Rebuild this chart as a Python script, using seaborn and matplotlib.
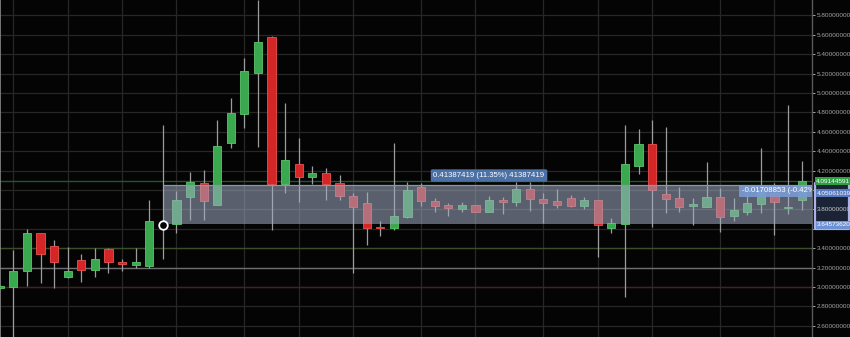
import matplotlib
matplotlib.use("Agg")
import matplotlib.pyplot as plt
import matplotlib.transforms as mtransforms
from matplotlib.patches import Rectangle
import numpy as np
import pandas as pd
import seaborn as sns

# ---------------- data ----------------
opens = [2.99, 3.002, 3.164, 3.553, 3.422, 3.099, 3.277, 3.177, 3.391, 3.26,
         3.227, 3.215, 3.64, 3.645, 3.93, 4.068, 3.844, 4.487, 4.786, 5.208,
         5.579, 4.058, 4.267, 4.136, 4.171, 4.074, 3.937, 3.862, 3.62, 3.604,
         3.717, 4.027, 3.886, 3.844, 3.803, 3.841, 3.775, 3.885, 3.872, 4.006,
         3.906, 3.889, 3.92, 3.834, 3.896, 3.604, 3.648, 4.249, 4.470, 3.958,
         3.913, 3.834, 3.827, 3.93, 3.731, 3.769, 3.855, 3.971, 3.81, 3.896]
highs = [3.02, 3.38, 3.595, 3.56, 3.483, 3.414, 3.339, 3.398, 3.40, 3.285,
         3.398, 3.90, 4.669, 3.99, 4.188, 4.205, 4.721, 4.95, 5.357, 5.96,
         5.59, 4.899, 4.532, 4.246, 4.223, 4.154, 3.966, 3.982, 3.683, 4.480,
         4.085, 4.068, 3.913, 3.862, 3.879, 3.845, 3.937, 3.93, 4.085, 4.085,
         3.965, 4.006, 3.947, 3.93, 3.90, 3.707, 4.669, 4.625, 4.721, 4.652,
         4.027, 3.913, 4.291, 4.017, 3.913, 3.965, 4.429, 4.074, 4.875, 4.298]
lows = [2.98, 2.48, 3.008, 3.037, 2.986, 3.09, 3.047, 3.105, 3.147, 3.167,
        3.192, 3.198, 3.285, 3.559, 3.69, 3.69, 3.84, 4.429, 4.641, 4.445,
        3.587, 3.965, 3.878, 4.058, 3.896, 3.896, 3.140, 3.432, 3.525, 3.587,
        3.707, 3.834, 3.775, 3.731, 3.775, 3.77, 3.769, 3.748, 3.837, 3.786,
        3.656, 3.810, 3.821, 3.80, 3.311, 3.553, 2.899, 4.164, 3.621, 3.759,
        3.775, 3.638, 3.82, 3.569, 3.679, 3.741, 3.759, 3.535, 3.75, 3.794]
closes = [3.01, 3.167, 3.553, 3.336, 3.260, 3.167, 3.177, 3.291, 3.254, 3.24,
          3.257, 3.683, 3.645, 3.896, 4.078, 3.889, 4.453, 4.79, 5.226, 5.522,
          4.061, 4.308, 4.13, 4.171, 4.058, 3.937, 3.821, 3.610, 3.61, 3.731,
          4.0, 3.886, 3.837, 3.810, 3.844, 3.775, 3.896, 3.88, 4.009, 3.906,
          3.862, 3.844, 3.837, 3.896, 3.638, 3.656, 4.264, 4.473, 3.999, 3.906,
          3.827, 3.851, 3.924, 3.724, 3.793, 3.862, 3.999, 3.878, 3.81, 4.09144591]

price_ticks = [2.6, 2.8, 3.0, 3.2, 3.4, 3.6, 3.8, 4.0, 4.2, 4.4, 4.6, 4.8,
               5.0, 5.2, 5.4, 5.6, 5.8]
boxed_ticks = [3.6, 3.8, 4.0]      # labels hidden under / redrawn in the selection box
boxed_visible = 3.8
grid_candles = [1, 5, 9, 13, 18, 22, 26, 31, 35, 40, 44, 48, 53, 57]

level_prices = [3.4, 3.2, 3.0]
level_colors = ["#3c4d2c", "#6e6e6e", "#521c1c"]

last_price = 4.09144591
range_top = 4.05061039
range_bottom = 3.64573620
range_start = 12
range_label = "0.41387419 (11.35%) 41387419"
range_label_at = (36, 4.148)
hover_label = "-0.01708853 (-0.42%) -1708853"
hover_label_at = (54.6, 3.99)
marker_at = (12, 3.64)

# ---------------- figure ----------------
sns.set_theme(style="dark")
plt.rcParams["font.family"] = ["Liberation Sans", "DejaVu Sans"]
AX_FS = 4.6

df = pd.DataFrame({"open": opens, "high": highs, "low": lows, "close": closes})
df["idx"] = np.arange(len(df))
df["up"] = df["close"] >= df["open"]
df["bottom"] = df[["open", "close"]].min(axis=1)
df["height"] = (df["close"] - df["open"]).abs().clip(lower=0.012)

W, H = 850, 337
fig = plt.figure(figsize=(W / 100, H / 100), dpi=100, facecolor="#040404")
ax = fig.add_axes([0, 0, 812 / W, 1])
ax.set_facecolor("#040404")

ax.set_xlim(0.02, 59.76)
ax.set_ylim(2.4835, 5.958)

# grid
ax.set_xticks(grid_candles)
ax.set_xticklabels([])
ax.tick_params(axis="x", length=0)
ax.grid(True, color="#272727", linewidth=0.9)
ax.set_axisbelow(True)

for p, c in zip(level_prices, level_colors):
    ax.axhline(p, color=c, linewidth=1.0, zorder=1)
ax.axhline(last_price, color="#24532d", linewidth=1.0, zorder=1)

# candles
ax.vlines(df["idx"], df["low"], df["high"], color="#9c9c9c", linewidth=0.9, zorder=2)
green, red = "#3aa84f", "#d42626"
face = [green if u else red for u in df["up"]]
edge = ["#5cc56c" if u else "#ee5050" for u in df["up"]]
ax.bar(df["idx"], df["height"], bottom=df["bottom"], width=0.6,
       color=face, edgecolor=edge, linewidth=0.6, zorder=3)

# measured range band
ax.add_patch(Rectangle((range_start, range_bottom), 60 - range_start,
                       range_top - range_bottom, facecolor="#a0abc2",
                       alpha=0.55, edgecolor="none", zorder=4))
ax.axhline(range_top, xmin=(range_start - 0.02) / 59.74, color="#8d96a6",
           linewidth=0.9, zorder=4)

sns.scatterplot(x=[marker_at[0]], y=[marker_at[1]], ax=ax, s=38, marker="o",
                facecolor="#040404", edgecolor="white", linewidth=1.3, zorder=6,
                legend=False)

ax.text(*range_label_at, range_label, ha="center", va="center", fontsize=5.6,
        color="white", zorder=7,
        bbox=dict(boxstyle="round,pad=0.35,rounding_size=0.2", fc="#4c71a6", ec="none"))
ax.text(*hover_label_at, hover_label, ha="left", va="center", fontsize=5.6,
        color="white", zorder=5, clip_on=True,
        bbox=dict(boxstyle="square,pad=0.35", fc="#7b9bd4", ec="none", alpha=0.9))

# right price axis
ax.yaxis.tick_right()
ax.set_yticks(price_ticks)
ax.set_yticklabels(["" if t in boxed_ticks else f"{t:.8f}" for t in price_ticks])
ax.tick_params(axis="y", colors="#a4a4a4", labelsize=AX_FS, length=2.5, width=0.7,
               pad=1.0, direction="out", left=False)
ax.tick_params(axis="y", labelcolor="#a4a4a4")
for s in ["top", "bottom"]:
    ax.spines[s].set_visible(False)
ax.spines["right"].set_color("#5a5a5a")
ax.spines["right"].set_linewidth(1.0)
ax.spines["left"].set_color("#8a8a8a")
ax.spines["left"].set_linewidth(1.2)

trans = mtransforms.blended_transform_factory(ax.transAxes, ax.transData)
ax.add_patch(Rectangle((1.004, range_bottom - 0.05), 0.041,
                       range_top - range_bottom + 0.075, transform=trans,
                       facecolor="#1b2336", edgecolor="#aab2e6", linewidth=1.6,
                       clip_on=False, zorder=8, joinstyle="round"))
ax.text(1.006, boxed_visible, f"{boxed_visible:.8f}", transform=trans, ha="left",
        va="center", fontsize=AX_FS, color="#c8c8c8", clip_on=False, zorder=9)
ax.text(1.005, last_price, f"{last_price:.8f}", transform=trans, ha="left",
        va="center", fontsize=AX_FS, color="white", clip_on=False, zorder=9,
        bbox=dict(boxstyle="square,pad=0.2", fc="#2f9e44", ec="none"))
ax.annotate(f"{range_top:.8f}", xy=(1.006, range_top), xycoords=trans,
            xytext=(0, -5.8), textcoords="offset points", ha="left", va="center",
            fontsize=AX_FS, color="white", annotation_clip=False, zorder=10,
            bbox=dict(boxstyle="square,pad=0.2", fc="#5a7cc0", ec="none"))
ax.annotate(f"{range_bottom:.8f}", xy=(1.006, range_bottom), xycoords=trans,
            xytext=(0, -0.5), textcoords="offset points", ha="left", va="center",
            fontsize=AX_FS, color="white", annotation_clip=False, zorder=10,
            bbox=dict(boxstyle="square,pad=0.2", fc="#6f92d6", ec="none"))

fig.savefig("out.png", dpi=100, facecolor=fig.get_facecolor())
